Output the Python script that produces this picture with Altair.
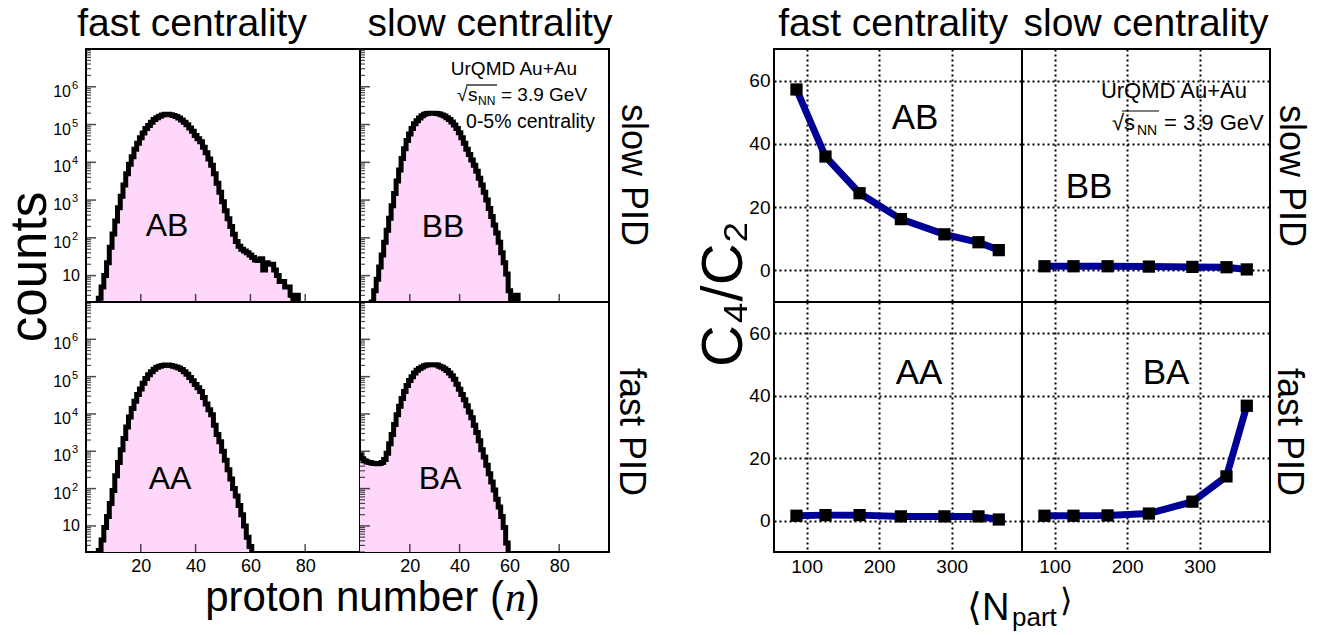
import altair as alt
import pandas as pd

FONT = "Liberation Sans"
PINK = "#ffd7fb"
NAVY = "#000096"

# ---------------- histogram data (proton number n = 0..100) ----------------
N_VALUES = list(range(101))

AB_COUNTS = [0, 0, 0, 0, 0,
             2.5, 5, 10, 22, 56, 126, 280, 630, 1260, 2500, 5000, 8900, 14000, 22000, 32000,
             45000, 60000, 79000, 95000, 115000, 135000, 151000, 166000, 178000, 186000,
             186000, 182000, 174000, 162000, 148000, 132000, 115000, 98000, 81000, 66000,
             51000, 42000, 35000, 25000, 18000, 12300, 8300, 5000, 2800, 1600,
             900, 520, 320, 200, 125, 80, 60, 50, 45, 40,
             35, 30, 26, 25, 28, 14, 22, 20, 20, 14,
             10, 7, 7, 5, 5, 3, 2, 3,
             0, 0, 0, 0, 0, 0, 0, 0, 0, 0, 0, 0, 0, 0, 0, 0, 0, 0, 0, 0, 0, 0, 0]

BB_COUNTS = [0, 0, 0, 0, 0,
             2, 4, 8, 17, 35, 76, 160, 330, 710, 1500, 3200, 6300, 12600, 23000, 38000,
             56000, 79000, 105000, 126000, 148000, 170000, 186000, 195000, 200000, 200000,
             200000, 197000, 190000, 180000, 167000, 152000, 135000, 117000, 97000, 78000,
             61000, 45000, 32000, 22000, 16000, 11500, 8300, 5800, 3800, 2500,
             1600, 1000, 600, 370, 220, 135, 76, 40, 22, 11,
             4, 0, 0, 3,
             0, 0, 0, 0, 0, 0, 0, 0, 0, 0, 0, 0, 0, 0, 0, 0, 0, 0, 0, 0,
             0, 0, 0, 0, 0, 0, 0, 0, 0, 0, 0, 0, 0, 0, 0, 0, 0]

AA_COUNTS = [0, 0, 0, 0, 0,
             2.2, 4.2, 9, 18, 40, 89, 220, 500, 1100, 2200, 4500, 8300, 14000, 22000, 33000,
             47000, 66000, 89000, 112000, 135000, 158000, 178000, 190000, 200000, 204000,
             204000, 200000, 190000, 182000, 170000, 155000, 135000, 115000, 95000, 78000,
             62000, 50000, 40000, 27500, 18600, 13000, 9500, 5000, 2800, 1800,
             1000, 575, 320, 180, 100, 63, 35, 20, 10, 5,
             2.8,
             0, 0, 0, 0, 0, 0, 0, 0, 0, 0, 0, 0, 0, 0, 0, 0, 0, 0, 0, 0,
             0, 0, 0, 0, 0, 0, 0, 0, 0, 0, 0, 0, 0, 0, 0, 0, 0, 0, 0, 0]

BA_COUNTS = [800, 630, 560, 520, 500, 480, 470, 460, 470, 500,
             600, 890, 1600, 2800, 5200, 9500, 16000, 26000, 40000, 58000,
             79000, 100000, 126000, 148000, 166000, 182000, 195000, 204000, 209000, 209000,
             209000, 204000, 190000, 178000, 162000, 145000, 126000, 105000, 85000, 63000,
             46000, 33000, 24000, 16600, 11200, 7900, 5000, 3200, 1900, 1100,
             700, 420, 250, 150, 91, 52, 32, 18, 9, 3.5,
             0, 0, 0, 0, 0, 0, 0, 0, 0, 0, 0, 0, 0, 0, 0, 0, 0, 0, 0, 0,
             0, 0, 0, 0, 0, 0, 0, 0, 0, 0, 0, 0, 0, 0, 0, 0, 0, 0, 0, 0, 0]

# ---------------- C4/C2 vs <Npart> ----------------
NPART = [86, 126, 173, 230, 290, 337, 365]
AB_RATIO = [57.2, 36.0, 24.4, 16.2, 11.4, 8.9, 6.4]
BB_RATIO = [1.3, 1.3, 1.3, 1.2, 1.1, 1.0, 0.3]
AA_RATIO = [1.6, 1.8, 1.8, 1.4, 1.4, 1.4, 0.4]
BA_RATIO = [1.6, 1.6, 1.7, 2.3, 6.1, 14.2, 36.8]

# ---------------- axis ticks / labels ----------------
HIST_X_TICKS = [20, 40, 60, 80]
HIST_Y_MAJOR = [10, 100, 1000, 10000, 100000, 1000000]
HIST_Y_EXP_VALUES = [100, 1000, 10000, 100000, 1000000]
HIST_Y_EXPONENTS = ["2", "3", "4", "5", "6"]
HIST_Y_MINOR = [m * 10 ** k for k in range(0, 7) for m in range(2, 10)
                if 2 <= m * 10 ** k <= 1e7]
RATIO_X_TICKS = [100, 200, 300]
RATIO_Y_TICKS = [0, 20, 40, 60]

ONE = pd.DataFrame({"a": [1]})


def txt(s, x, y, size, align="center", baseline="alphabetic", angle=0,
        style="normal", font=FONT):
    return alt.Chart(ONE).mark_text(
        text=s, fontSize=size, align=align, baseline=baseline, angle=angle,
        fontStyle=style, font=font, color="black"
    ).encode(x=alt.value(x), y=alt.value(y))


def rule(x1, x2, y1, y2, w=1.2):
    return alt.Chart(ONE).mark_rule(color="black", strokeWidth=w).encode(
        x=alt.value(x1), x2=alt.value(x2), y=alt.value(y1), y2=alt.value(y2))


def hist_panel(counts, w, h, show_ylab, show_xlab, extra):
    df = pd.DataFrame({"n": N_VALUES, "count": counts})
    xs = alt.Scale(domain=[0, 100], nice=False, zero=False)
    ys = alt.Scale(type="log", domain=[2, 1e7], nice=False)
    xaxis = alt.Axis(values=HIST_X_TICKS, labels=show_xlab, ticks=False, domain=False,
                     grid=False, title=None, labelFontSize=18, labelPadding=5,
                     labelFont=FONT, labelColor="black")
    yaxis = alt.Axis(values=HIST_Y_MAJOR, labels=False, ticks=False, domain=False,
                     grid=False, title=None)
    base = alt.Chart(df).transform_calculate(
        x="datum.n - 0.5", c="max(datum.count, 0.5)")
    X = alt.X("x:Q", scale=xs, axis=xaxis)
    Y = alt.Y("c:Q", scale=ys, axis=yaxis, stack=False)
    area = base.mark_area(interpolate="step-after", color=PINK, opacity=1,
                          clip=True).encode(x=X, y=Y)
    line = base.mark_line(interpolate="step-after", color="black", strokeWidth=5,
                          clip=True).encode(x=X, y=Y)
    ymaj = alt.Chart(pd.DataFrame({"c": HIST_Y_MAJOR})).mark_tick(
        orient="horizontal", size=10, thickness=1.5, color="black").encode(
        y=alt.Y("c:Q", scale=ys, axis=yaxis), x=alt.value(5))
    ymin = alt.Chart(pd.DataFrame({"c": HIST_Y_MINOR})).mark_tick(
        orient="horizontal", size=5, thickness=1.2, color="black").encode(
        y=alt.Y("c:Q", scale=ys, axis=yaxis), x=alt.value(2.5))
    xmaj = alt.Chart(pd.DataFrame({"x": HIST_X_TICKS})).mark_tick(
        orient="vertical", size=8, thickness=1.5, color="black").encode(
        x=alt.X("x:Q", scale=xs, axis=xaxis), y=alt.value(h - 4))
    layers = [area, line, ymaj, ymin, xmaj]
    if show_ylab:
        ten = alt.Chart(pd.DataFrame({"c": [10]})).mark_text(
            text="10", fontSize=16, font=FONT, align="right", baseline="middle",
            color="black").encode(y=alt.Y("c:Q", scale=ys, axis=yaxis), x=alt.value(-6))
        dfe = pd.DataFrame({"c": HIST_Y_EXP_VALUES, "e": HIST_Y_EXPONENTS})
        base10 = alt.Chart(dfe).mark_text(
            text="10", fontSize=16, font=FONT, align="right", baseline="alphabetic",
            dy=10, color="black").encode(y=alt.Y("c:Q", scale=ys, axis=yaxis),
                                         x=alt.value(-15))
        expo = alt.Chart(dfe).mark_text(
            fontSize=11, font=FONT, align="left", baseline="alphabetic",
            dy=2, color="black").encode(y=alt.Y("c:Q", scale=ys, axis=yaxis),
                                        x=alt.value(-14), text="e:N")
        layers += [ten, base10, expo]
    return alt.layer(*layers, *extra).properties(width=w, height=h)


def ratio_panel(vals, w, h, show_ylab, show_xlab, extra):
    df = pd.DataFrame({"npart": NPART, "r": vals})
    xs = alt.Scale(domain=[55, 397], nice=False, zero=False)
    ys = alt.Scale(domain=[-10, 70], nice=False, zero=False)
    xaxis = alt.Axis(values=RATIO_X_TICKS, grid=True, gridDash=[2, 3], gridColor="black",
                     gridWidth=2, gridOpacity=1, labels=show_xlab, ticks=False,
                     domain=False, title=None, labelFontSize=19, labelPadding=5,
                     labelFont=FONT, labelColor="black")
    yaxis = alt.Axis(values=RATIO_Y_TICKS, grid=True, gridDash=[2, 3], gridColor="black",
                     gridWidth=2, gridOpacity=1, labels=show_ylab, ticks=False,
                     domain=False, title=None, labelFontSize=19, labelPadding=4,
                     labelFont=FONT, labelColor="black")
    base = alt.Chart(df)
    X = alt.X("npart:Q", scale=xs, axis=xaxis)
    Y = alt.Y("r:Q", scale=ys, axis=yaxis)
    line = base.mark_line(color=NAVY, strokeWidth=7).encode(x=X, y=Y)
    pts = base.mark_point(shape="square", filled=True, size=150, color="black",
                          opacity=1).encode(x=X, y=Y)
    return alt.layer(line, pts, *extra).properties(width=w, height=h)


def spacer(w, h):
    return alt.Chart(ONE).mark_point(opacity=0, size=1).encode(
        x=alt.value(0), y=alt.value(0)).properties(
        width=w, height=h, view=alt.ViewBackground(strokeOpacity=0))


WL, WR, WRR = 274, 249, 248
HT, HB = 253, 250
GAP = 165
TITLE_FS = 39
PID_FS = 36

# ---- left block ----
ab = hist_panel(AB_COUNTS, WL, HT, True, False, [
    txt("AB", 81, 187, 32),
    txt("fast centrality", 106, -13, TITLE_FS),
    txt("counts", -40, 218, 51, angle=270),
    alt.Chart(ONE).mark_point(opacity=0, size=1).encode(x=alt.value(-84), y=alt.value(-47)),
])
bb = hist_panel(BB_COUNTS, WR, HT, False, False, [
    txt("BB", 83, 188, 32),
    txt("slow centrality", 130, -13, TITLE_FS),
    txt("UrQMD Au+Au", 217, 26, 19, align="right"),
    txt("√", 97, 52, 19, align="left"),
    txt("s", 108, 52, 19, align="left"),
    txt("NN", 118, 56, 12, align="left"),
    txt("= 3.9 GeV", 141, 52, 19, align="left"),
    rule(106, 137, 36, 36),
    txt("0-5% centrality", 235, 79, 19.5, align="right"),
    txt("slow PID", 262, 126, PID_FS, angle=90),
])
aa = hist_panel(AA_COUNTS, WL, HB, True, True, [
    txt("AA", 84, 187, 32),
    txt("proton number (", 418, 309, 42, align="right"),
    txt("n", 419, 309, 42, align="left", style="italic", font="Liberation Serif"),
    txt(")", 440, 309, 42, align="left"),
])
ba = hist_panel(BA_COUNTS, WR, HB, False, True, [
    txt("BA", 80, 187, 32),
    txt("fast PID", 260, 130, PID_FS, angle=90),
])

# ---- right block ----
abr = ratio_panel(AB_RATIO, WRR, HT, True, False, [
    txt("AB", 141, 80, 35),
    txt("fast centrality", 119, -13, TITLE_FS),
    txt("C₄/C₂", -32, 245, 58, angle=270),
])
bbr = ratio_panel(BB_RATIO, WRR, HT, False, False, [
    txt("BB", 67, 149, 35),
    txt("slow centrality", 124, -13, TITLE_FS),
    txt("UrQMD Au+Au", 225, 49, 22, align="right"),
    txt("√", 90, 81, 22, align="left"),
    txt("s", 102, 81, 22, align="left"),
    txt("NN", 115, 86, 14, align="left"),
    txt("= 3.9 GeV", 142, 81, 22, align="left"),
    rule(100, 137, 62, 62),
    txt("slow PID", 258, 127, PID_FS, angle=90),
])
aar = ratio_panel(AA_RATIO, WRR, HB, True, True, [
    txt("AA", 145, 82, 35),
    txt("⟨N", 193, 318, 38, align="left"),
    txt("part", 238, 324, 26, align="left"),
    txt("⟩", 286, 309, 32, align="left"),
])
bar = ratio_panel(BA_RATIO, WRR, HB, False, True, [
    txt("BA", 144, 82, 35),
    txt("fast PID", 256, 130, PID_FS, angle=90),
])

chart = alt.concat(
    ab, bb, spacer(GAP, HT), abr, bbr,
    aa, ba, spacer(GAP, HB), aar, bar,
    columns=5, spacing=0, bounds="flush"
).properties(
    padding=0, background="white"
).configure_view(stroke="black", strokeWidth=2).configure_axis(
    labelFont=FONT, labelColor="black")

chart.save("out.html", embed_options={"renderer": "svg", "actions": False})
